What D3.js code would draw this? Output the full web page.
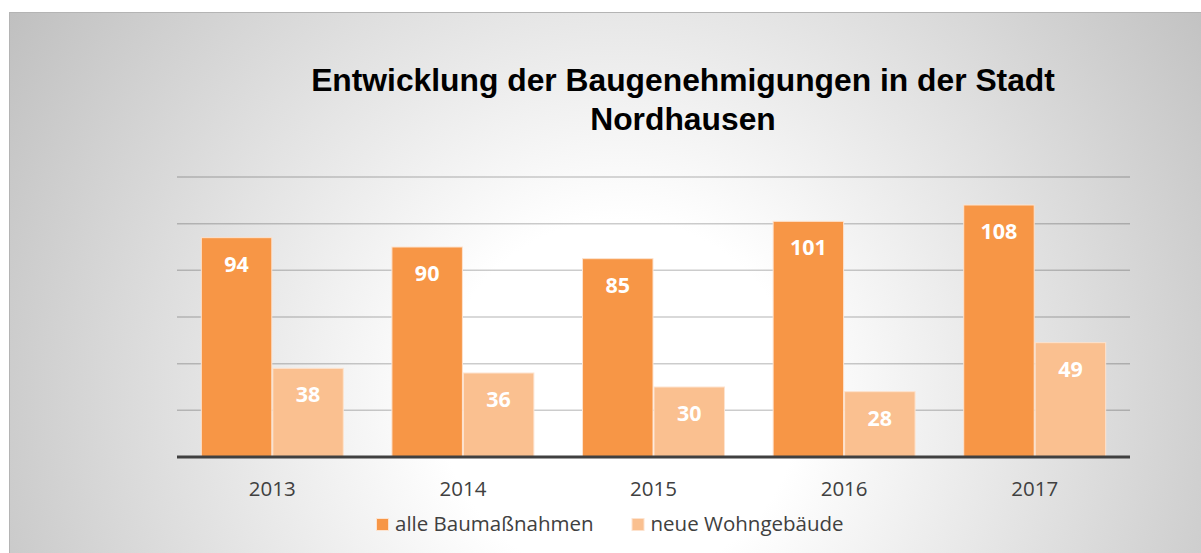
<!DOCTYPE html>
<html>
<head>
<meta charset="utf-8">
<script src="https://cdn.jsdelivr.net/npm/d3@7"></script>
<style>
  html, body { margin: 0; padding: 0; background: #fff; }
  svg { display: block; }
</style>
</head>
<body>
<div id="chart"></div>
<script>
// Daten
const jahre = ["2013", "2014", "2015", "2016", "2017"];
const serien = ["alle Baumaßnahmen", "neue Wohngebäude"];
const alleBaumassnahmen = [94, 90, 85, 101, 108];
const neueWohngebaeude = [38, 36, 30, 28, 49];
const gitterWerte = [20, 40, 60, 80, 100, 120];
const titelZeilen = ["Entwicklung der Baugenehmigungen in der Stadt", "Nordhausen"];

const W = 1201, H = 553;
const plot = {left: 177, right: 1130, top: 177, bottom: 457};

const farben = d3.scaleOrdinal()
    .domain(serien)
    .range(["#F79646", "#FAC090"]);

const svg = d3.select("#chart")
    .append("svg")
    .attr("width", W)
    .attr("height", H);

// Hintergrund mit Verlauf
const defs = svg.append("defs");
const grad = defs.append("radialGradient")
    .attr("id", "bg")
    .attr("gradientUnits", "userSpaceOnUse")
    .attr("cx", 620).attr("cy", 400).attr("r", 720);
grad.append("stop").attr("offset", "0").attr("stop-color", "#ffffff");
grad.append("stop").attr("offset", "0.25").attr("stop-color", "#ffffff");
grad.append("stop").attr("offset", "1").attr("stop-color", "#c0c0c0");

svg.append("rect")
    .attr("x", 9.5).attr("y", 12.5)
    .attr("width", W).attr("height", H)
    .attr("fill", "url(#bg)")
    .attr("stroke", "#b4b4b4")
    .attr("stroke-width", 1);

// Skalen
const x0 = d3.scaleBand()
    .domain(jahre)
    .range([plot.left, plot.right])
    .paddingInner(0.25)
    .paddingOuter(0.125);

const x1 = d3.scaleBand()
    .domain(serien)
    .range([0, x0.bandwidth()]);

const y = d3.scaleLinear()
    .domain([0, 120])
    .range([plot.bottom, plot.top]);

// Gitterlinien
svg.append("g")
    .selectAll("line")
    .data(gitterWerte)
    .enter().append("line")
    .attr("x1", plot.left).attr("x2", plot.right)
    .attr("y1", d => y(d)).attr("y2", d => y(d))
    .attr("stroke", "#000")
    .attr("stroke-opacity", 0.2)
    .attr("stroke-width", 1.5);

// Balken
const daten = jahre.map((j, i) => ({
    jahr: j,
    werte: [
        {serie: serien[0], wert: alleBaumassnahmen[i]},
        {serie: serien[1], wert: neueWohngebaeude[i]}
    ]
}));

const gruppen = svg.append("g")
    .selectAll("g")
    .data(daten)
    .enter().append("g")
    .attr("transform", d => `translate(${x0(d.jahr)},0)`);

gruppen.selectAll("rect")
    .data(d => d.werte)
    .enter().append("rect")
    .attr("x", d => x1(d.serie) + 0.5)
    .attr("y", d => y(d.wert))
    .attr("width", x1.bandwidth() - 1)
    .attr("height", d => y(0) - y(d.wert))
    .attr("fill", d => farben(d.serie))
    .attr("stroke", "#fde3cf")
    .attr("stroke-width", 1);

gruppen.selectAll("text")
    .data(d => d.werte)
    .enter().append("text")
    .attr("x", d => x1(d.serie) + x1.bandwidth() / 2)
    .attr("y", d => y(d.wert) + 34)
    .attr("text-anchor", "middle")
    .attr("font-family", "'Open Sans', sans-serif")
    .attr("font-weight", "bold")
    .attr("font-size", "21.5px")
    .attr("fill", "#fff")
    .text(d => d.wert);

// Grundlinie
svg.append("line")
    .attr("x1", plot.left).attr("x2", plot.right)
    .attr("y1", y(0)).attr("y2", y(0))
    .attr("stroke", "#404040")
    .attr("stroke-width", 3);

// x-Achse Beschriftung
const xAxis = svg.append("g")
    .attr("transform", `translate(0,${plot.bottom})`)
    .call(d3.axisBottom(x0).tickSize(0).tickPadding(39));
xAxis.select(".domain").remove();
xAxis.selectAll("text")
    .attr("font-family", "'Open Sans', sans-serif")
    .attr("font-size", "20.5px")
    .attr("fill", "#404040")
    .attr("dy", 0);

// Titel
svg.append("g")
    .selectAll("text")
    .data(titelZeilen)
    .enter().append("text")
    .attr("x", 683)
    .attr("y", (d, i) => 91 + i * 39)
    .attr("text-anchor", "middle")
    .attr("font-family", "'Liberation Sans', Arial, sans-serif")
    .attr("font-weight", "bold")
    .attr("font-size", "31.8px")
    .attr("fill", "#000")
    .text(d => d);

// Legende
const legende = svg.append("g").attr("transform", "translate(376,518)");
let lx = 0;
serien.forEach(s => {
    const item = legende.append("g").attr("transform", `translate(${lx},0)`);
    item.append("rect")
        .attr("x", 0.5).attr("y", 0.5)
        .attr("width", 12).attr("height", 12)
        .attr("fill", farben(s))
        .attr("stroke", "#fde3cf")
        .attr("stroke-width", 1);
    const t = item.append("text")
        .attr("x", 19)
        .attr("y", 13)
        .attr("font-family", "'Open Sans', sans-serif")
        .attr("font-size", "20.5px")
        .attr("fill", "#404040")
        .text(s);
    lx += 19 + t.node().getComputedTextLength() + 38;
});
</script>
</body>
</html>
